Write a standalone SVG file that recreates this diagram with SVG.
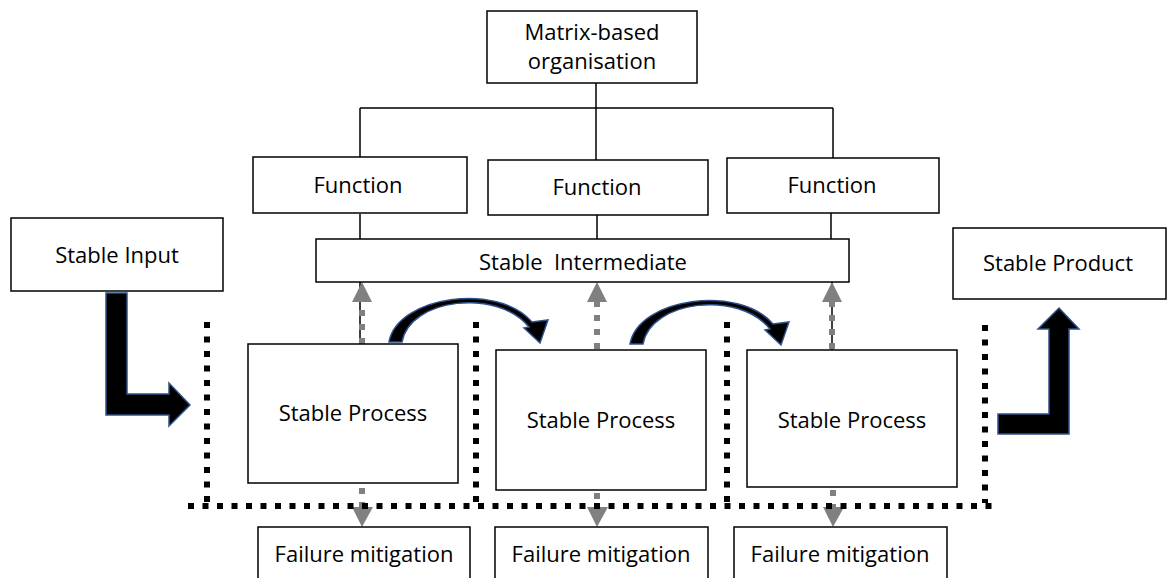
<svg xmlns="http://www.w3.org/2000/svg" width="1167" height="578" viewBox="0 0 1167 578">
<style>
.box{fill:#fff;stroke:#000;stroke-width:1.5}
.t{font-family:"Open Sans","Liberation Sans",sans-serif;font-size:22px;fill:#000;text-anchor:middle}
.ln{stroke:#000;stroke-width:1.5;fill:none}
.dot{stroke:#000;stroke-width:6;stroke-dasharray:6 8.5;fill:none}
.gd{stroke:#808080;stroke-width:6;stroke-dasharray:6 8;fill:none}
.gh{fill:#808080}
.bk{fill:#000;stroke:#2F528F;stroke-width:1.5;stroke-linejoin:miter}
</style>
<rect width="1167" height="578" fill="#fff"/>
<g id="connectors">
  <path class="ln" d="M596,83V160M360,108H833M360,108V157M833,108V158M360,214V239M597,215V239M831,213V239"/>
  <line class="ln" x1="360" y1="282" x2="360" y2="345"/>
  <line class="ln" x1="832" y1="282" x2="832" y2="350"/>
  <line class="gd" x1="362" y1="344" x2="362" y2="300"/>
  <polygon class="gh" points="352,302 372,302 362,282"/>
  <line class="gd" x1="597" y1="349" x2="597" y2="300"/>
  <polygon class="gh" points="587,302 607,302 597,282"/>
  <line class="gd" x1="832" y1="349" x2="832" y2="300"/>
  <polygon class="gh" points="822,302 842,302 832,282"/>
  <line class="gd" x1="362" y1="488" x2="362" y2="508"/>
  <polygon class="gh" points="352,507 373,507 362,527"/>
  <line class="gd" x1="597" y1="493" x2="597" y2="508"/>
  <polygon class="gh" points="587,507 608,507 597,527"/>
  <line class="gd" x1="833" y1="490" x2="833" y2="508"/>
  <polygon class="gh" points="823,507 844,507 833,527"/>
  <line class="dot" x1="188" y1="506" x2="992" y2="506"/>
  <line class="dot" x1="207" y1="322" x2="207" y2="503"/>
  <line class="dot" x1="476" y1="322" x2="476" y2="503"/>
  <line class="dot" x1="727" y1="322" x2="727" y2="503"/>
  <line class="dot" x1="985" y1="325" x2="985" y2="503"/>
  <polygon class="bk" points="106,293 127,293 127,394 169,394 169,383 190,405 169,426 169,415 106,415"/>
  <polygon class="bk" points="998,414 1049,414 1049,329 1038,329 1059,308 1079,329 1069,329 1069,434 998,434"/>
  <path id="curve1" class="bk" d="M389,342 C397,296 498,282 532,322 L548,320 L540,343 L524,328 L529,327 C498,288 410,298 402,342 Z"/>
  <path class="bk" transform="translate(241,2)" d="M389,342 C397,296 498,282 532,322 L548,320 L540,343 L524,328 L529,327 C498,288 410,298 402,342 Z"/>
</g>
<g id="matrix"><rect class="box" x="487" y="11" width="210" height="72"/><text class="t" x="592" y="40">Matrix-based</text><text class="t" x="592" y="69">organisation</text></g>
<g id="function1"><rect class="box" x="253" y="157" width="214" height="56"/><text class="t" x="358" y="193">Function</text></g>
<g id="function2"><rect class="box" x="488" y="160" width="220" height="55"/><text class="t" x="597" y="195">Function</text></g>
<g id="function3"><rect class="box" x="727" y="158" width="212" height="55"/><text class="t" x="832" y="193">Function</text></g>
<g id="intermediate"><rect class="box" x="316" y="239" width="533" height="43"/><text class="t" x="583" y="270" xml:space="preserve">Stable  Intermediate</text></g>
<g id="input"><rect class="box" x="11" y="218" width="212" height="73"/><text class="t" x="117" y="263">Stable Input</text></g>
<g id="product"><rect class="box" x="953" y="228" width="213" height="71"/><text class="t" x="1058" y="271">Stable Product</text></g>
<g id="process1"><rect class="box" x="248" y="344" width="210" height="139"/><text class="t" x="353" y="421">Stable Process</text></g>
<g id="process2"><rect class="box" x="496" y="350" width="210" height="140"/><text class="t" x="601" y="428">Stable Process</text></g>
<g id="process3"><rect class="box" x="747" y="350" width="210" height="137"/><text class="t" x="852" y="428">Stable Process</text></g>
<g id="failure1"><rect class="box" x="258" y="527" width="212" height="60"/><text class="t" x="364" y="562">Failure mitigation</text></g>
<g id="failure2"><rect class="box" x="495" y="527" width="213" height="60"/><text class="t" x="601" y="562">Failure mitigation</text></g>
<g id="failure3"><rect class="box" x="734" y="527" width="213" height="60"/><text class="t" x="840" y="562">Failure mitigation</text></g>
</svg>
